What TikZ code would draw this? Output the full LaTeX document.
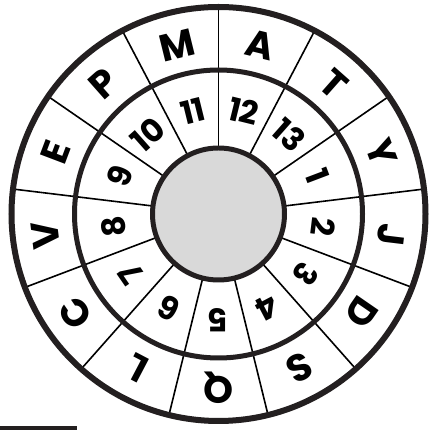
\documentclass[tikz,border=0pt]{standalone}
\usepackage{fontspec}
\setmainfont{Poppins}
\usepackage{tikz}
\definecolor{wheelblack}{RGB}{35,31,32}
\definecolor{wheelgray}{RGB}{217,217,217}

\begin{document}
\begin{tikzpicture}[x=1pt, y=1pt,
    letter/.style={font=\fontsize{38}{38}\selectfont\bfseries, inner sep=0pt},
    number/.style={font=\fontsize{32}{32}\selectfont\bfseries, inner sep=0pt}]
  \useasboundingbox (0,0) rectangle (431,430);
  \coordinate (O) at (218.5,216);
  \fill[wheelgray] (O) circle (66);
  % sector dividers
  \foreach \k in {0,...,12}
    \draw[line width=1.6] ([shift={(90-\k*360/13:66)}]O) -- ([shift={(90-\k*360/13:207)}]O);
  \draw[wheelblack, line width=6] (O) circle (207);
  \draw[wheelblack, line width=5] (O) circle (144);
  \draw[wheelblack, line width=5] (O) circle (66);
  % outer letters
  \foreach \l [count=\k from 0, evaluate=\k as \a using 90-(\k+0.5)*360/13] in {A,T,Y,J,D,S,Q,L,C,V,E,P,M}
    \node[letter, rotate=\a-90] (let\k) at ([shift={(\a:174)}]O) {\l};
  % inner numbers
  \foreach \n [count=\k from 0, evaluate=\k as \a using 90-(\k+0.5)*360/13] in {12,13,1,2,3,4,5,6,7,8,9,10,11}
    \node[number, rotate=\a-90] (num\k) at ([shift={(\a:106)}]O) {\n};
  \draw[wheelblack, line width=3.5] (0,1.75) -- (77,1.75);
\end{tikzpicture}
\end{document}
